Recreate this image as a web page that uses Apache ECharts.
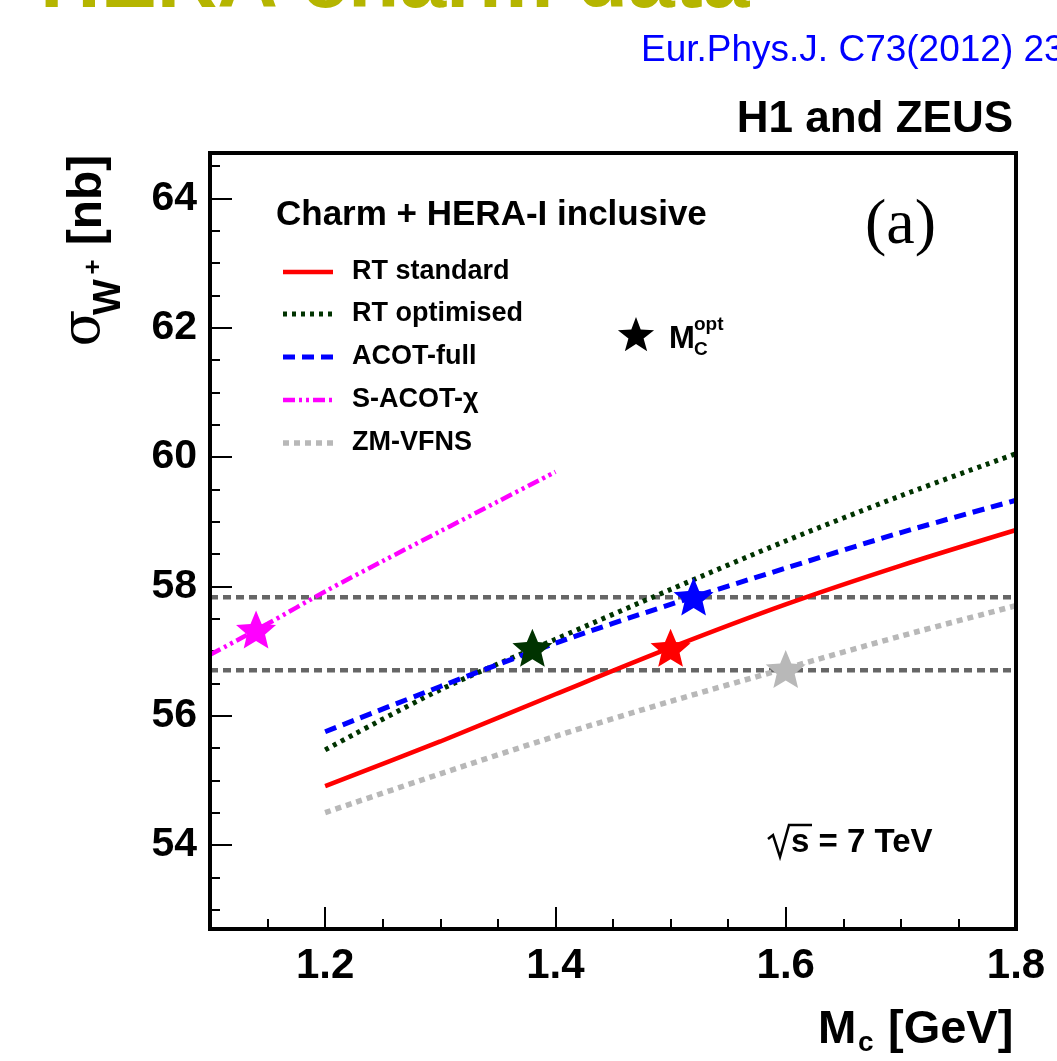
<!DOCTYPE html>
<html><head><meta charset="utf-8">
<script src="https://cdn.jsdelivr.net/npm/echarts@6/dist/echarts.min.js"></script>
<style>html,body{margin:0;padding:0;background:#fff;} #c{width:1057px;height:1061px;}</style>
</head><body><div id="c"></div>
<script>
// ---- data ----
const massX = [1.2, 1.3, 1.4, 1.5, 1.6, 1.7, 1.8];
const rtStandard  = [54.91, 55.60, 56.33, 57.05, 57.72, 58.32, 58.87];
const rtOptimised = [55.47, 56.40, 57.18, 57.95, 58.70, 59.40, 60.05];
const acotFull    = [55.75, 56.45, 57.12, 57.72, 58.28, 58.83, 59.33];
const zmVfns      = [54.50, 55.10, 55.68, 56.22, 56.73, 57.23, 57.70];
const sacotX   = [1.1, 1.15, 1.2, 1.25, 1.3, 1.35, 1.4];
const sacotChi = [56.94, 57.42, 57.92, 58.39, 58.85, 59.31, 59.77];
const optNames = ['S-ACOT-χ', 'RT optimised', 'RT standard', 'ACOT-full', 'ZM-VFNS'];
const optX = [1.14, 1.38, 1.50, 1.52, 1.60];
const optY = [57.33, 57.05, 57.05, 57.84, 56.72];
const bandX = [1.1, 1.8];
const bandY = [57.83, 56.70];
const xMajor = [1.2, 1.4, 1.6, 1.8];
const xMinor = [1.15, 1.25, 1.3, 1.35, 1.45, 1.5, 1.55, 1.65, 1.7, 1.75];
const yMajor = [54, 56, 58, 60, 62, 64];
const yMinor = [53, 53.5, 54.5, 55, 55.5, 56.5, 57, 57.5, 58.5, 59, 59.5, 60.5, 61, 61.5, 62.5, 63, 63.5, 64.5];
const legendNames = ['RT standard', 'RT optimised', 'ACOT-full', 'S-ACOT-χ', 'ZM-VFNS'];

// ---- styles ----
const FONT = '"Liberation Sans", Arial, Helvetica, sans-serif';
const C = {
  'RT standard': '#ff0000', 'RT optimised': '#003300', 'ACOT-full': '#0000ff',
  'S-ACOT-χ': '#ff00ff', 'ZM-VFNS': '#b8b8b8'
};
const DASH = {
  'RT standard': 'solid', 'RT optimised': [4, 5], 'ACOT-full': [12, 7],
  'S-ACOT-χ': [12, 4, 3, 4, 3, 4], 'ZM-VFNS': [6, 5]
};
const LW = {'RT standard': 4.5, 'RT optimised': 5, 'ACOT-full': 5, 'S-ACOT-χ': 4.5, 'ZM-VFNS': 5.5};
const STAR = 'path://M50,0 L63.23,31.8 L97.55,34.55 L71.4,56.95 L79.39,90.45 L50,72.5 L20.61,90.45 L28.6,56.95 L2.45,34.55 L36.77,31.8 Z';

function starPoints(cx, cy, R) {
  const pts = [];
  for (let k = 0; k < 10; k++) {
    const r = k % 2 === 0 ? R : R * 0.42;
    const a = -Math.PI / 2 + k * Math.PI / 5;
    pts.push([cx + r * Math.cos(a), cy + r * Math.sin(a)]);
  }
  return pts;
}

function pairs(xs, ys) { return xs.map((x, i) => [x, ys[i]]); }
function curve(name, xs, ys) {
  return {
    name, type: 'line', xAxisIndex: 0, yAxisIndex: 0, data: pairs(xs, ys),
    smooth: 0.3, showSymbol: false, symbol: 'none', silent: true, z: 3,
    lineStyle: {color: C[name], width: LW[name], type: DASH[name], cap: 'butt', opacity: 1}
  };
}

const series = [];
bandY.forEach((v, i) => {
  series.push({
    name: 'band' + i, type: 'line', xAxisIndex: 0, yAxisIndex: 0,
    data: bandX.map(x => [x, v]), showSymbol: false, symbol: 'none', silent: true, z: 2,
    lineStyle: {color: '#666666', width: 4.5, type: [8, 5]}
  });
});
series.push(curve('RT standard', massX, rtStandard));
series.push(curve('ZM-VFNS', massX, zmVfns));
series.push(curve('RT optimised', massX, rtOptimised));
series.push(curve('ACOT-full', massX, acotFull));
series.push(curve('S-ACOT-χ', sacotX, sacotChi));
series.push({
  name: 'optimal', type: 'scatter', xAxisIndex: 0, yAxisIndex: 0, z: 5, silent: true,
  symbol: STAR, symbolSize: [40, 38],
  data: optX.map((x, i) => ({value: [x, optY[i]], itemStyle: {color: C[optNames[i]], opacity: 1}}))
});

const graphic = [];
graphic.push({type: 'text', x: 40, y: -16, style: {text: 'HERA charm data', font: 'bold 84px ' + FONT, fill: '#b5b500', verticalAlign: 'middle'}});
graphic.push({type: 'text', x: 641, y: 51, style: {text: 'Eur.Phys.J. C73(2012) 23', font: '37px ' + FONT, fill: '#0000ff', verticalAlign: 'middle'}});
graphic.push({type: 'text', x: 1013, y: 120, style: {text: 'H1 and ZEUS', font: 'bold 44px ' + FONT, fill: '#000', align: 'right', verticalAlign: 'middle'}});
graphic.push({type: 'text', x: 865, y: 226, style: {text: '(a)', font: '64px "Liberation Serif", "Times New Roman", serif', fill: '#000', verticalAlign: 'middle'}});
graphic.push({type: 'text', x: 276, y: 215, style: {text: 'Charm + HERA-I inclusive', font: 'bold 35px ' + FONT, fill: '#000', verticalAlign: 'middle'}});
const rowY = [272, 314, 357, 400, 443];
legendNames.forEach((n, i) => {
  graphic.push({type: 'line', shape: {x1: 283, y1: rowY[i], x2: 333, y2: rowY[i]},
    style: {stroke: C[n], lineWidth: LW[n], lineDash: DASH[n] === 'solid' ? null : DASH[n]}});
  graphic.push({type: 'text', x: 352, y: rowY[i], style: {text: n, font: 'bold 27px ' + FONT, fill: '#000', verticalAlign: 'middle'}});
});
// M_c^opt annotation
graphic.push({type: 'polygon', shape: {points: starPoints(636, 336, 19)}, style: {fill: '#000'}});
graphic.push({type: 'text', x: 669, y: 339, style: {text: 'M', font: 'bold 31px ' + FONT, fill: '#000', verticalAlign: 'middle'}});
graphic.push({type: 'text', x: 694, y: 325, style: {text: 'opt', font: 'bold 19px ' + FONT, fill: '#000', verticalAlign: 'middle'}});
graphic.push({type: 'text', x: 694, y: 350, style: {text: 'C', font: 'bold 19px ' + FONT, fill: '#000', verticalAlign: 'middle'}});
// sqrt(s) = 7 TeV : radical sign + text
graphic.push({type: 'polyline', shape: {points: [[768, 839], [773, 835], [780, 857], [789, 825], [812, 825]]}, style: {stroke: '#000', lineWidth: 2.5, fill: null}});
graphic.push({type: 'text', x: 791, y: 843, style: {text: 's = 7 TeV', font: 'bold 33px ' + FONT, fill: '#000', verticalAlign: 'middle'}});
// x axis title
graphic.push({type: 'text', x: 818, y: 1030, style: {text: 'M', font: 'bold 46px ' + FONT, fill: '#000', verticalAlign: 'middle'}});
graphic.push({type: 'text', x: 858, y: 1043, style: {text: 'c', font: 'bold 28px ' + FONT, fill: '#000', verticalAlign: 'middle'}});
graphic.push({type: 'text', x: 888, y: 1030, style: {text: '[GeV]', font: 'bold 47px ' + FONT, fill: '#000', verticalAlign: 'middle'}});
// y axis title (rotated)
graphic.push({type: 'text', x: 85, y: 328, rotation: Math.PI / 2, style: {text: 'σ', font: '54px "DejaVu Serif", "Liberation Serif", serif', fill: '#000', align: 'center', verticalAlign: 'middle'}});
graphic.push({type: 'text', x: 110, y: 297, rotation: Math.PI / 2, style: {text: 'W', font: 'bold 38px ' + FONT, fill: '#000', align: 'center', verticalAlign: 'middle'}});
graphic.push({type: 'text', x: 94, y: 267, rotation: Math.PI / 2, style: {text: '+', font: 'bold 26px ' + FONT, fill: '#000', align: 'center', verticalAlign: 'middle'}});
graphic.push({type: 'text', x: 88, y: 200, rotation: Math.PI / 2, style: {text: '[nb]', font: 'bold 48px ' + FONT, fill: '#000', align: 'center', verticalAlign: 'middle'}});

const baseX = {
  type: 'value', min: 1.1, max: 1.8, gridIndex: 0, position: 'bottom',
  axisLine: {show: false}, splitLine: {show: false}
};
const baseY = {
  type: 'value', min: 52.7, max: 64.7, gridIndex: 0, position: 'left',
  axisLine: {show: false}, splitLine: {show: false}
};

const option = {
  backgroundColor: '#fff',
  animation: false,
  grid: {left: 210, top: 153, right: 41, bottom: 132, show: true, borderColor: '#000', borderWidth: 4, backgroundColor: 'transparent', z: 10},
  xAxis: [
    Object.assign({}, baseX, {
      axisTick: {show: true, inside: true, length: 22, customValues: xMajor, lineStyle: {color: '#000', width: 2}},
      axisLabel: {show: true, customValues: xMajor, margin: 16, color: '#000', fontSize: 42, fontWeight: 'bold', fontFamily: FONT,
        showMinLabel: true, showMaxLabel: true, formatter: v => v.toFixed(1)}
    }),
    Object.assign({}, baseX, {
      axisTick: {show: true, inside: true, length: 10, customValues: xMinor, lineStyle: {color: '#000', width: 2}},
      axisLabel: {show: false}
    })
  ],
  yAxis: [
    Object.assign({}, baseY, {
      axisTick: {show: true, inside: true, length: 22, customValues: yMajor, lineStyle: {color: '#000', width: 2}},
      axisLabel: {show: true, customValues: yMajor, margin: 13, color: '#000', fontSize: 41, fontWeight: 'bold', fontFamily: FONT,
        showMinLabel: true, showMaxLabel: true}
    }),
    Object.assign({}, baseY, {
      axisTick: {show: true, inside: true, length: 10, customValues: yMinor, lineStyle: {color: '#000', width: 2}},
      axisLabel: {show: false}
    })
  ],
  series,
  graphic
};
const chart = echarts.init(document.getElementById('c'), null, {renderer: 'canvas'});
chart.setOption(option);
</script>
</body></html>
